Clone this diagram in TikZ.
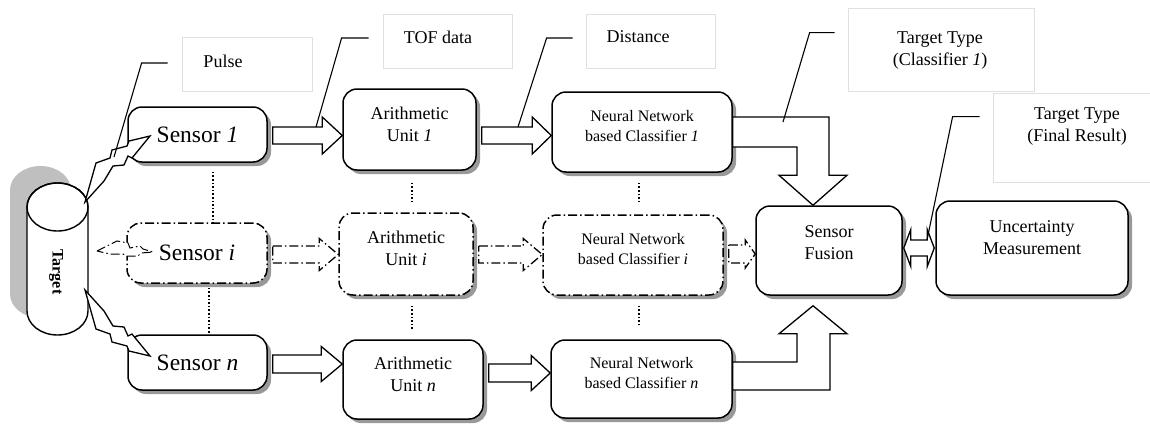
\documentclass[tikz,border=0pt]{standalone}
\usepackage{fontspec}
\setmainfont{Liberation Serif}
\usetikzlibrary{calc,shadows}

% two or more centred lines, lifted by #1 pt without changing the box size
\newcommand\liftlines[2]{\raisebox{#1pt}[\height][\depth]{\begin{tabular}{@{}c@{}}#2\end{tabular}}}

% horizontal block arrow: style, from node, to node, centre y, shaft half, head half, head length
\newcommand\blockarrow[7]{%
  \filldraw[#1] let \p1=(#2.east), \p2=(#3.west), \p3=(0,#4) in
    ({\x1+5pt},{\y3+#5pt}) -- ({\x2-#7pt},{\y3+#5pt}) -- ({\x2-#7pt},{\y3+#6pt}) -- (\x2,\y3)
    -- ({\x2-#7pt},{\y3-#6pt}) -- ({\x2-#7pt},{\y3-#5pt}) -- ({\x1+5pt},{\y3-#5pt}) -- cycle;}

\tikzset{
  unitbox/.style={draw, line width=1.5pt, rounded corners=14pt, fill=white, inner sep=0pt,
    drop shadow={shadow xshift=4pt, shadow yshift=-4pt, fill=black!40, opacity=1}},
  dashdot/.style={dash pattern=on 9pt off 3pt on 1.5pt off 3pt},
  sensorfont/.style={font=\fontsize{23.5}{27}\selectfont},
  midfont/.style={font=\fontsize{18}{22}\selectfont},
  nnfont/.style={font=\fontsize{16}{20}\selectfont},
  notebox/.style={draw=black!12, line width=0.8pt, inner sep=0pt},
  notetext/.style={font=\fontsize{18}{22}\selectfont, align=center, inner sep=0pt},
  arrowbody/.style={draw, fill=white, line width=1.3pt, line join=miter},
  bolt/.style={draw, fill=white, line width=1.3pt, line join=miter},
  callout/.style={draw, line width=1.1pt},
  dotline/.style={line width=1.6pt, dash pattern=on 1.6pt off 2pt}
}

\begin{document}
\begin{tikzpicture}[x=1pt, y=-1pt]
\useasboundingbox (0,0) rectangle (1150,424);
\clip (0,0) rectangle (1150,424);

% ---- note boxes and their texts
\node[notebox, minimum width=130, minimum height=54] (pulse) at (247,64) {};
\node[notebox, minimum width=129, minimum height=54] (tof) at (447.5,41) {};
\node[notebox, minimum width=129, minimum height=54] (dist) at (650.5,41) {};
\node[notebox, minimum width=186, minimum height=83] (cls) at (941,49.5) {};
\node[notebox, minimum width=180, minimum height=89] (fin) at (1083,137.5) {};

\node[notetext] (pulsetxt) at ($(pulse.center)+(-24,-3)$) {Pulse};
\node[notetext] (toftxt) at ($(tof.center)+(-9.5,-4)$) {TOF data};
\node[notetext] (disttxt) at ($(dist.center)+(-12.5,-4)$) {Distance};
\node[notetext] (clstxt) at ($(cls.center)+(-1,1.5)$) {Target Type\\(Classifier \textit{1})};
\node[notetext] (fintxt) at ($(fin.center)+(-6,-11)$) {Target Type\\(Final Result)};

% ---- target cylinder with its shadow
\fill[black!25] (10,190) -- (10,294) arc[start angle=180, end angle=0, x radius=30.5, y radius=24]
  -- (71,190) arc[start angle=0, end angle=-180, x radius=30.5, y radius=24] -- cycle;
\filldraw[fill=white, line width=1.4pt] (27,207) -- (27,311)
  arc[start angle=180, end angle=0, x radius=30.5, y radius=24] -- (88,207)
  arc[start angle=0, end angle=-180, x radius=30.5, y radius=24] -- cycle;
\draw[line width=1.4pt] (57.5,207) ellipse[x radius=30.5, y radius=24];
\node[font=\bfseries\fontsize{16}{19}\selectfont, rotate=-90] (tgt) at (56,272) {Target};

% ---- processing boxes
\node[unitbox, sensorfont, minimum width=139, minimum height=55] (s1) at (197.5,134.5) {Sensor \textit{1}};
\node[unitbox, dashdot, sensorfont, minimum width=140, minimum height=60] (si) at (197,253) {Sensor \textit{i}};
\node[unitbox, sensorfont, minimum width=139, minimum height=55] (sn) at (197.5,362.5) {Sensor \textit{n}};

\node[unitbox, midfont, minimum width=133, minimum height=81] (a1) at (409.5,129.5) {\liftlines{3.5}{Arithmetic\\Unit \textit{1}}};
\node[unitbox, dashdot, midfont, minimum width=134, minimum height=82] (ai) at (406,254) {\liftlines{3.5}{Arithmetic\\Unit \textit{i}}};
\node[unitbox, midfont, minimum width=140, minimum height=79] (an) at (413,379.5) {\liftlines{3.5}{Arithmetic\\Unit \textit{n}}};

\node[unitbox, nnfont, minimum width=180, minimum height=80] (n1) at (642,132) {\liftlines{5}{Neural Network\\based Classifier \textit{1}}};
\node[unitbox, dashdot, nnfont, minimum width=180, minimum height=80] (ni) at (633,255) {\liftlines{5}{Neural Network\\based Classifier \textit{i}}};
\node[unitbox, nnfont, minimum width=181, minimum height=78] (nn) at (641.5,379) {\liftlines{5}{Neural Network\\based Classifier \textit{n}}};

\node[unitbox, midfont, minimum width=146, minimum height=89] (fu) at (829,250.5) {\liftlines{6.5}{Sensor\\Fusion}};
\node[unitbox, midfont, minimum width=192, minimum height=94] (um) at (1032,248) {\liftlines{9}{Uncertainty\\Measurement}};

% ---- dotted links between the rows
\draw[dotline] ($(s1.south)+(15.5,9)$) -- ($(si.north)+(16,0)$);
\draw[dotline] ($(si.south)+(12,4)$) -- ($(sn.north)+(11.5,0)$);
\draw[dotline] ($(a1.south)+(2.5,12)$) -- ($(ai.north)+(6,-8)$);
\draw[dotline] ($(ai.south)+(6,10)$) -- ($(an.north)+(-1,-10)$);
\draw[dotline] ($(n1.south)+(-3,10)$) -- ($(ni.north)+(6,-10)$);
\draw[dotline] ($(ni.south)+(6,10)$) -- ($(nn.north)+(-2.5,-12)$);

% ---- block arrows along the rows
\blockarrow{arrowbody}{s1}{a1}{135.5}{8.5}{18.5}{20}
\blockarrow{arrowbody}{a1}{n1}{135.5}{8.5}{18.5}{19}
\blockarrow{arrowbody}{sn}{an}{364}{9}{17.5}{21}
\blockarrow{arrowbody}{an}{nn}{373}{9}{17.5}{19}
\blockarrow{arrowbody, dashdot}{si}{ai}{254.5}{8.5}{16}{19}
\blockarrow{arrowbody, dashdot}{ai}{ni}{254.5}{8.5}{16}{19}
\blockarrow{arrowbody, dashdot}{ni}{fu}{254}{9}{14}{10}

% bent arrows into the fusion box
\filldraw[arrowbody] let \p1=(n1.east), \p3=($(fu.north)+(-16,0)$) in
  (\x1,{\y1+15pt}) -- ({\x3+16pt},{\y1+15pt}) -- ({\x3+16pt},{\y3+30pt}) -- ({\x3+34pt},{\y3+30pt})
  -- (\x3,\y3) -- ({\x3-34pt},{\y3+30pt}) -- ({\x3-16pt},{\y3+30pt}) -- ({\x3-16pt},{\y1-15pt})
  -- (\x1,{\y1-15pt}) -- cycle;
\filldraw[arrowbody] let \p1=(nn.east), \p3=($(fu.south)+(-16,10)$) in
  (\x1,{\y1-11pt}) -- ({\x3+17pt},{\y1-11pt}) -- ({\x3+17pt},{\y3-28pt}) -- ({\x3+34pt},{\y3-28pt})
  -- (\x3,\y3) -- ({\x3-34pt},{\y3-28pt}) -- ({\x3-16pt},{\y3-28pt}) -- ({\x3-16pt},{\y1+17pt})
  -- (\x1,{\y1+17pt}) -- cycle;

% two-way arrow between fusion and uncertainty measurement
\filldraw[arrowbody] let \p1=(fu.east), \p2=(um.west) in
  ({\x1+1pt},\y2) -- ({\x1+8pt},{\y2+18.5pt}) -- ({\x1+8pt},{\y2+8pt}) -- ({\x2-8pt},{\y2+8pt})
  -- ({\x2-8pt},{\y2+18.5pt}) -- ({\x2-1pt},\y2) -- ({\x2-8pt},{\y2-18.5pt}) -- ({\x2-8pt},{\y2-8pt})
  -- ({\x1+8pt},{\y2-8pt}) -- ({\x1+8pt},{\y2-18.5pt}) -- cycle;

% ---- pulses from the target to the sensors
\filldraw[bolt] (85,202) -- (96,163) -- (110,158) -- (112,150) -- (127,146) -- (129,141) -- (150,136)
  -- (132,158) -- (128,156) -- (124,165) -- (113,166) -- (104,181) -- cycle;
\filldraw[bolt] (85,290) -- (96,329) -- (110,334) -- (112,342) -- (127,346) -- (129,351) -- (150,356)
  -- (132,334) -- (128,336) -- (124,327) -- (113,326) -- (104,311) -- cycle;
\filldraw[bolt, dashdot, line width=1pt] (97,251) -- (117,241) -- (128,243) -- (130,248) -- (140,246)
  -- (143,249) -- (153,252) -- (141,253) -- (138,256) -- (126,256) -- (123,254) -- (110,254) -- cycle;

% ---- callout leaders
\coordinate (pulseend) at (114,157);
\coordinate (tofend) at (316,127);
\coordinate (distend) at (518,127);
\coordinate (clsend) at (783,122);
\coordinate (finend) at (927,240);
\draw[callout] ($(pulse.west)+(-14,-1)$) -- ++(-26,0) -- (pulseend);
\draw[callout] ($(tof.west)+(-14,-3)$) -- ++(-27,0) -- (tofend);
\draw[callout] ($(dist.west)+(-13,-3)$) -- ++(-26,0) -- (distend);
\draw[callout] ($(cls.north west)+(-13,25)$) -- ++(-25,0) -- (clsend);
\draw[callout] ($(fin.north west)+(-13,24)$) -- ++(-27,0) -- (finend);
\end{tikzpicture}
\end{document}
